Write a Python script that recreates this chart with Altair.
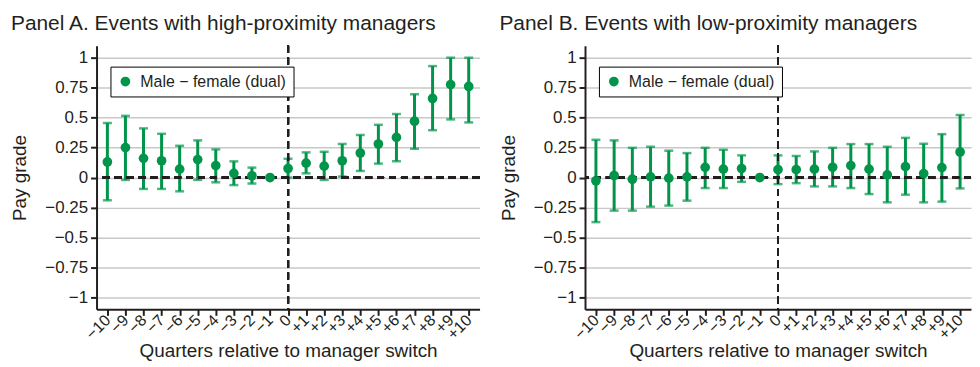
import altair as alt
import pandas as pd

quarters = list(range(-10, 11))

a_est = [0.13, 0.25, 0.16, 0.14, 0.07, 0.15, 0.10, 0.035, 0.015, 0.0, 0.075,
         0.12, 0.095, 0.14, 0.205, 0.28, 0.335, 0.47, 0.66, 0.775, 0.76]
a_lo = [-0.19, -0.02, -0.095, -0.095, -0.115, -0.02, -0.04, -0.063, -0.05, None, 0.0,
        0.035, -0.02, 0.008, 0.055, 0.116, 0.136, 0.24, 0.395, 0.485, 0.46]
a_hi = [0.455, 0.515, 0.41, 0.365, 0.265, 0.31, 0.235, 0.135, 0.083, None, 0.157,
        0.21, 0.215, 0.28, 0.355, 0.44, 0.53, 0.695, 0.93, 1.0, 1.0]

b_est = [-0.027, 0.017, -0.014, 0.006, -0.005, 0.006, 0.085, 0.07, 0.075, 0.0, 0.066,
         0.066, 0.07, 0.086, 0.1, 0.07, 0.022, 0.091, 0.033, 0.083, 0.213]
b_lo = [-0.372, -0.276, -0.276, -0.243, -0.234, -0.193, -0.088, -0.088, -0.036, None, -0.055,
        -0.047, -0.074, -0.074, -0.088, -0.138, -0.207, -0.143, -0.207, -0.201, -0.091]
b_hi = [0.315, 0.31, 0.248, 0.257, 0.224, 0.204, 0.248, 0.232, 0.185, None, 0.185,
        0.18, 0.218, 0.248, 0.279, 0.279, 0.257, 0.331, 0.282, 0.362, 0.522]

y_ticks = [-1, -0.75, -0.5, -0.25, 0, 0.25, 0.5, 0.75, 1]
series_name = "Male \u2212 female (dual)"
titles = ["Panel A. Events with high-proximity managers",
          "Panel B. Events with low-proximity managers"]

GREEN = "#00954A"
INK = "#231f20"
FONT = "Liberation Sans"

XSCALE = alt.Scale(domain=[-10.6, 10.6], nice=False, zero=False)
YSCALE = alt.Scale(domain=[-1.1, 1.1], nice=False, zero=False)
XAXIS = alt.Axis(values=quarters, grid=False, labelAngle=-45,
                 labelAlign="right", labelBaseline="middle",
                 labelOverlap=False, labelFontSize=16, tickCount=21,
                 labelExpr="datum.value > 0 ? '+' + format(datum.value, 'd') : format(datum.value, 'd')",
                 title="Quarters relative to manager switch", titlePadding=0,
                 labelPadding=2)
YAXIS = alt.Axis(values=y_ticks, title="Pay grade", titlePadding=15,
                 labelExpr="replace(format(datum.value, '.2~f'), '-', '\u2212')",
                 labelOverlap=False, labelPadding=3, tickCount=9, labelFontSize=17)


def X(field):
    return alt.X(field, scale=XSCALE, axis=XAXIS)


def Y(field):
    return alt.Y(field, scale=YSCALE, axis=YAXIS)


def panel(title, est, lo, hi, width):
    df = pd.DataFrame({"q": quarters, "est": est, "lo": lo, "hi": hi})
    df["series"] = series_name
    base = alt.Chart(df)
    pts = base.mark_circle(size=95, opacity=1).encode(
        x=X("q:Q"), y=Y("est:Q"),
        color=alt.Color("series:N",
                        scale=alt.Scale(domain=[series_name], range=[GREEN]),
                        legend=alt.Legend(title=None, orient="none", legendX=14, legendY=21,
                                          strokeColor="black", fillColor="white",
                                          padding=7, labelFontSize=16, labelFont=FONT,
                                          labelColor=INK, symbolSize=95, symbolType="circle",
                                          symbolStrokeWidth=0, labelOffset=7)))
    hline = base.mark_rule(color=INK, strokeWidth=2, strokeDash=[7, 5]).encode(
        y=alt.datum(0, scale=YSCALE, axis=YAXIS))
    vline = base.mark_rule(color=INK, strokeWidth=2, strokeDash=[7, 5]).encode(
        x=alt.datum(0, scale=XSCALE, axis=XAXIS))
    valid = base.transform_filter("isValid(datum.lo)")
    bars = valid.mark_rule(color=GREEN, strokeWidth=3).encode(x=X("q:Q"), y=Y("lo:Q"), y2="hi:Q")
    cap_lo = valid.mark_tick(color=GREEN, orient="horizontal", size=9, thickness=2.5).encode(x=X("q:Q"), y=Y("lo:Q"))
    cap_hi = valid.mark_tick(color=GREEN, orient="horizontal", size=9, thickness=2.5).encode(x=X("q:Q"), y=Y("hi:Q"))
    return alt.layer(bars, cap_lo, cap_hi, hline, vline, pts).properties(
        width=width, height=265,
        title=alt.TitleParams(text=title, anchor="start", frame="bounds", fontSize=21,
                              font=FONT, fontWeight="normal", color=INK, offset=11))


chart = alt.hconcat(
    panel(titles[0], a_est, a_lo, a_hi, 385),
    panel(titles[1], b_est, b_lo, b_hi, 388),
    spacing=18,
).resolve_legend(color="independent").properties(
    padding={"left": 2, "top": 4, "right": 0, "bottom": 0}
).configure_view(stroke=None).configure_axis(
    domainColor=INK, domainWidth=2, tickColor=INK, tickWidth=2, tickSize=6,
    gridColor="#c8c8c8", gridWidth=1.5, labelFont=FONT, labelFontSize=16,
    labelColor=INK, titleFont=FONT, titleFontSize=19, titleFontWeight="normal",
    titleColor=INK,
)

chart.save("out.html", embed_options={"renderer": "svg", "actions": False})
